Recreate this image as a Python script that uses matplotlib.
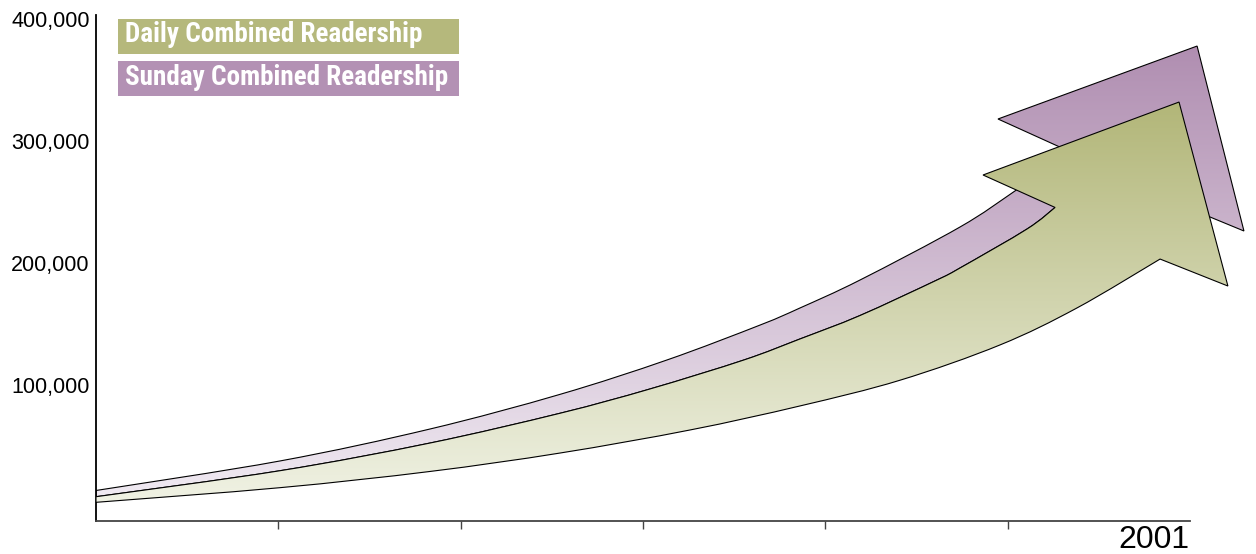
import numpy as np
import matplotlib
matplotlib.use("Agg")
import matplotlib.pyplot as plt
from matplotlib.patches import PathPatch, Rectangle
from matplotlib.path import Path
from matplotlib import font_manager

# ---------------- data ----------------
years = [1995, 1996, 1997, 1998, 1999, 2000, 2001]
y_ticks = [100000, 200000, 300000, 400000]
y_tick_labels = ["100,000", "200,000", "300,000", "400,000"]
series_names = ["Daily Combined Readership", "Sunday Combined Readership"]
series_colors = ["#B5B87C", "#B391B4"]

# Sunday arrow (drawn behind)
sunday_top_x = [1995.000, 1996.009, 1996.832, 1997.545, 1998.132, 1998.642,
                1998.861, 1999.190, 1999.739, 2000.040]
sunday_top_y = [24600, 48800, 75000, 103400, 131600, 160200,
                174200, 197100, 240600, 270100]
sunday_head_x = [2000.347, 1999.947, 2001.039, 2001.296, 2000.923]
sunday_head_y = [302000, 329100, 388900, 237300, 260300]

# Daily arrow (drawn in front)
daily_top_x = [1995.000, 1996.009, 1996.832, 1997.545, 1998.038, 1998.554,
               1998.861, 1999.190, 1999.612, 1999.739, 2000.106]
daily_top_y = [19500, 40800, 63500, 87900, 107800, 131600,
               148800, 168000, 197100, 207000, 238900]
daily_head_x = [2000.260, 1999.865, 2000.940, 2001.208, 2000.836]
daily_head_y = [256600, 283200, 343000, 192200, 214300]
daily_bottom_x = [1995.000, 1996.009, 1996.832, 1997.545, 1998.258,
                  1998.861, 1999.410, 1999.958, 2000.380]
daily_bottom_y = [14900, 26900, 40200, 55300, 74200,
                  93900, 115000, 143900, 174200]

# ---------------- figure ----------------
W, H = 1256, 554
fig = plt.figure(figsize=(W / 100, H / 100), dpi=100)
ax_left, ax_right, ax_bottom, ax_top = 96, 1256, 520.5, 15
ax = fig.add_axes([ax_left / W, (H - ax_bottom) / H,
                   (ax_right - ax_left) / W, (ax_bottom - ax_top) / H])

px_per_year = 182.33
px_per_unit = 122 / 100000
xmax = years[0] + (ax_right - ax_left) / px_per_year
ymax = (ax_bottom - ax_top) / px_per_unit

base_font = ["Liberation Sans", "Arial", "DejaVu Sans"]


def smooth_segments(pts):
    """Catmull-Rom spline through pts as cubic Bezier pieces
    (the first point is the current pen position and is not repeated)."""
    p = np.asarray(pts, dtype=float)
    n = len(p)
    verts, codes = [], []
    for i in range(n - 1):
        p0 = p[i - 1] if i > 0 else p[i]
        p1, p2 = p[i], p[i + 1]
        p3 = p[i + 2] if i + 2 < n else p[i + 1]
        c1 = p1 + (p2 - p0) / 6.0
        c2 = p2 - (p3 - p1) / 6.0
        verts += [tuple(c1), tuple(c2), tuple(p2)]
        codes += [Path.CURVE4] * 3
    return verts, codes


def build_path(top_pts, head_pts, bottom_pts):
    # top curve -> straight head edges -> bottom curve (starting at last head pt)
    verts = [top_pts[0]]
    codes = [Path.MOVETO]
    v, c = smooth_segments(top_pts)
    verts += v
    codes += c
    for hp in head_pts:
        verts.append(hp)
        codes.append(Path.LINETO)
    v, c = smooth_segments([head_pts[-1]] + bottom_pts)
    verts += v
    codes += c
    verts.append(top_pts[0])
    codes.append(Path.CLOSEPOLY)
    return Path(verts, codes)


def gradient_fill(path, top_rgb, bot_rgb, z):
    patch = PathPatch(path, facecolor="none", edgecolor="black",
                      linewidth=0.8, zorder=z + 1, joinstyle="miter")
    ax.add_patch(patch)
    v = path.vertices
    x0, x1 = v[:, 0].min(), v[:, 0].max()
    y0, y1 = v[:, 1].min(), v[:, 1].max()
    t = np.linspace(0, 1, 256)[:, None]
    top = np.array(top_rgb) / 255.0
    bot = np.array(bot_rgb) / 255.0
    img = (top[None, :] * (1 - t) + bot[None, :] * t)[:, None, :]
    im = ax.imshow(img, extent=[x0, x1, y0, y1], origin="upper",
                   aspect="auto", interpolation="bilinear", zorder=z)
    im.set_clip_path(patch)
    return patch


# Sunday arrow: its lower edge is hidden beneath the daily arrow
sun_top = list(zip(sunday_top_x, sunday_top_y)) + [(sunday_head_x[0], sunday_head_y[0])]
sun_head = list(zip(sunday_head_x, sunday_head_y))[1:] + [(daily_head_x[0], daily_head_y[0])]
day_top = list(zip(daily_top_x, daily_top_y)) + [(daily_head_x[0], daily_head_y[0])]
sun_bottom = day_top[::-1][1:]
sun_path = build_path(sun_top, sun_head, sun_bottom)
gradient_fill(sun_path, (176, 142, 177), (240, 234, 242), 1)

# Daily arrow
day_head = list(zip(daily_head_x, daily_head_y))[1:]
day_bottom = list(zip(daily_bottom_x, daily_bottom_y))[::-1]
day_path = build_path(day_top, day_head, day_bottom)
gradient_fill(day_path, (178, 182, 120), (240, 242, 228), 3)

ax.set_xlim(years[0], xmax)
ax.set_ylim(0, ymax)

# spines
for s in ("top", "right"):
    ax.spines[s].set_visible(False)
ax.spines["left"].set_color("black")
ax.spines["left"].set_linewidth(1.3)
ax.spines["bottom"].set_color("#444444")
ax.spines["bottom"].set_linewidth(1.3)
ax.spines["bottom"].set_bounds(years[0], years[-1])

# ticks
ax.set_xticks(years[1:-1])
ax.set_xticklabels([])
ax.tick_params(axis="x", direction="out", length=6, width=1.0, color="#444444")
ax.set_yticks(y_ticks)
ax.set_yticklabels(y_tick_labels, family=base_font, fontsize=15.5)
ax.tick_params(axis="y", length=0, pad=4.5)
for lbl in ax.get_yticklabels():
    lbl.set_va("bottom")

ax.annotate(str(years[-1]), xy=(years[-1], 0), xycoords="data",
            xytext=(0, -28), textcoords="offset pixels",
            ha="right", va="baseline", fontsize=23, family=base_font)

# legend boxes
avail = {f.name for f in font_manager.fontManager.ttflist}
cond_candidates = ["Liberation Sans Narrow", "DejaVu Sans Condensed",
                   "Roboto Condensed", "Open Sans Condensed"]
cond = [c for c in cond_candidates if c in avail]
leg_family = cond[:1] + ["Liberation Sans", "DejaVu Sans"]

box_x0, box_x1 = 118, 459
box_rows = [(19, 53.7, 42.5), (61, 96, 85)]
target_w = 298
renderer = fig.canvas.get_renderer()
scale = 1.0
for name, col, (t, b, base) in zip(series_names, series_colors, box_rows):
    fig.add_artist(Rectangle((box_x0 / W, (H - b) / H), (box_x1 - box_x0) / W,
                             (b - t) / H, transform=fig.transFigure,
                             facecolor=col, edgecolor="none", zorder=5))
    txt = fig.text(125 / W, (H - base) / H, name, color="white",
                   fontweight="bold", family=leg_family, fontsize=18,
                   ha="left", va="baseline", zorder=6)
    w = txt.get_window_extent(renderer).width
    if name == series_names[0]:
        scale = target_w / w
    txt.set_fontsize(18 * scale)

fig.savefig("out.png", dpi=100)
